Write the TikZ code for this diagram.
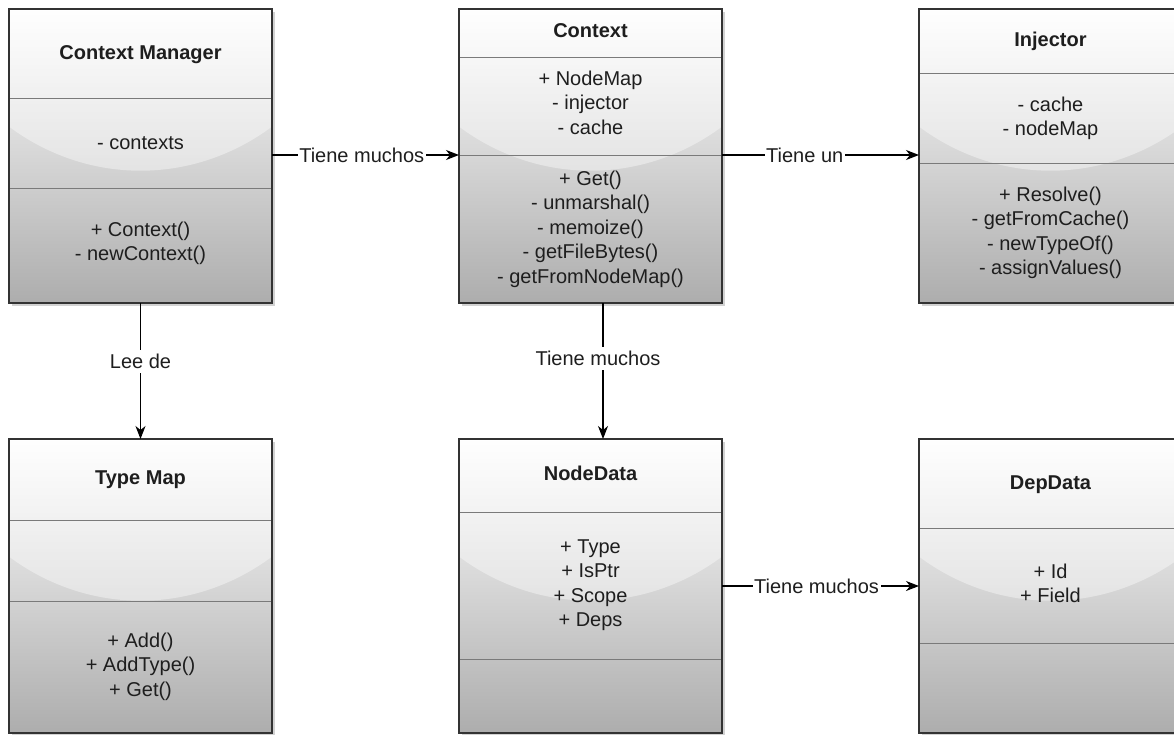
\documentclass[tikz,border=0pt]{standalone}
\usepackage{fontspec}
\setmainfont{Liberation Sans}
\usetikzlibrary{arrows.meta,shadows}

\definecolor{ink}{HTML}{1E1E1E}
\definecolor{frame}{HTML}{333333}
\definecolor{rulecol}{HTML}{7A7A7A}
\definecolor{basebottom}{HTML}{ADADAD}

\tikzset{
  classbox/.style={anchor=north west, minimum width=263pt, minimum height=294pt,
    inner sep=0pt, outer sep=0pt, top color=white, bottom color=basebottom,
    drop shadow={shadow xshift=3pt, shadow yshift=-3pt, fill=gray, opacity=0.35}},
  classframe/.style={draw=frame, line width=1.8pt},
  gloss/.style={fill=white, opacity=0.4},
  divider/.style={draw=rulecol, line width=0.9pt},
  classtitle/.style={anchor=base, text=ink, font=\bfseries\fontsize{20}{24.5}\selectfont},
  % multi-line members: the base anchor sits on the last line
  members/.style={anchor=base, align=center, text=ink, font=\fontsize{20}{24.5}\selectfont},
  conn/.style={draw=black, line width=1.3pt, -{Stealth[length=13pt,width=10pt,inset=4pt]}},
  lbl/.style={fill=white, text=ink, inner xsep=1.5pt, inner ysep=4pt, font=\fontsize{20}{24.5}\selectfont},
}

% #1 node name, #2 left x, #3 top y, #4 first divider y, #5 second divider y
\newcommand\umlclass[5]{%
  \node[classbox] (#1) at (#2,#3) {};
  \fill[gloss] (#2,#3) -- ++(263,0) -- ++(0,117.6)
     .. controls +(-79,58.8) and +(79,58.8) .. ++(-263,0) -- cycle;
  \draw[divider] (#2,#4) -- ++(263,0);
  \draw[divider] (#2,#5) -- ++(263,0);
  \draw[classframe] (#1.north west) rectangle (#1.south east);
}

\begin{document}
\begin{tikzpicture}[x=1pt, y=-1pt]
  \useasboundingbox (0,0) rectangle (1174,734);
  \fill[white] (0,0) rectangle (1174,734);
  \clip (0,0) rectangle (1174,734);

  % class boxes
  \umlclass{cm}{9}{9}{98}{188}
  \umlclass{ctx}{459}{9}{57}{155}
  \umlclass{inj}{919}{9}{73}{163}
  \umlclass{tm}{9}{439}{520}{601}
  \umlclass{nd}{459}{439}{512}{659}
  \umlclass{dd}{919}{439}{528}{643}

  % Context Manager
  \node[classtitle] (cm-t) at (140.5,59) {Context Manager};
  \node[members] (cm-a) at (140.5,149) {- contexts};
  \node[members] (cm-m) at (140.5,260.5) {+ Context()\\- newContext()};

  % Context
  \node[classtitle] (ctx-t) at (590.5,37) {Context};
  \node[members] (ctx-a) at (590.5,134) {+ NodeMap\\- injector\\- cache};
  \node[members] (ctx-m) at (590.5,283) {+ Get()\\- unmarshal()\\- memoize()\\- getFileBytes()\\- getFromNodeMap()};

  % Injector
  \node[classtitle] (inj-t) at (1050.5,46) {Injector};
  \node[members] (inj-a) at (1050.5,135.5) {- cache\\- nodeMap};
  \node[members] (inj-m) at (1050.5,274.5) {+ Resolve()\\- getFromCache()\\- newTypeOf()\\- assignValues()};

  % Type Map
  \node[classtitle] (tm-t) at (140.5,484) {Type Map};
  \node[members] (tm-m) at (140.5,696) {+ Add()\\+ AddType()\\+ Get()};

  % NodeData
  \node[classtitle] (nd-t) at (590.5,480) {NodeData};
  \node[members] (nd-a) at (590.5,626.5) {+ Type\\+ IsPtr\\+ Scope\\+ Deps};

  % DepData
  \node[classtitle] (dd-t) at (1050.5,489) {DepData};
  \node[members] (dd-a) at (1050.5,602.5) {+ Id\\+ Field};

  % connector rows and columns
  \coordinate (rowA) at (0,155);
  \coordinate (rowB) at (0,586);
  \coordinate (colB) at (603,0);

  \draw[conn] (cm.east |- rowA) -- node[lbl, pos=0.48] {Tiene muchos} (ctx.west |- rowA);
  \draw[conn] (ctx.east |- rowA) -- node[lbl, pos=0.42] {Tiene un} (inj.west |- rowA);
  \draw[conn] (cm.south) -- node[lbl, pos=0.43] {Lee de} (tm.north);
  \draw[conn] (ctx.south -| colB) -- node[lbl, pos=0.41, xshift=-5pt] {Tiene muchos} (nd.north -| colB);
  \draw[conn] (nd.east |- rowB) -- node[lbl, pos=0.48] {Tiene muchos} (dd.west |- rowB);
\end{tikzpicture}
\end{document}
